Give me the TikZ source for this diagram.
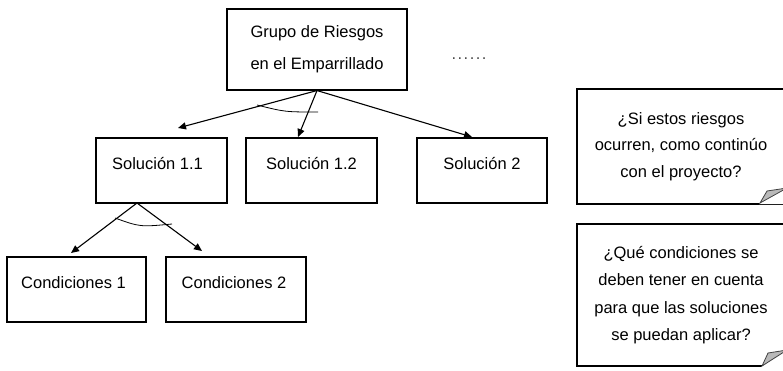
\documentclass[tikz,border=0pt]{standalone}
\usepackage{fontspec}
\setmainfont{Liberation Sans}
\usetikzlibrary{arrows.meta}

\begin{document}
\begin{tikzpicture}[
    x=1pt, y=-1pt,
    line width=1.1pt,
    every node/.style={font=\fontsize{16.5}{32}\selectfont},
    box/.style={draw, rectangle, inner sep=0pt, minimum height=65, text depth=14pt},
    note/.style={draw, rectangle, inner sep=0pt, align=center, minimum width=208},
    arr/.style={-{Triangle[length=8pt, width=7pt]}},
    swing/.style={line width=0.8pt},
    fold/.style={fill=gray!55, draw=black!75, line width=0.8pt}
]

    % Page frame
    \clip (0,0) rectangle (783,370);

    % --- TREE ---

    % Root
    \node[draw, rectangle, align=center, minimum width=180, minimum height=81, inner sep=0pt]
        (grupo) at (317,49.5) {Grupo de Riesgos\\en el Emparrillado};
    \node[anchor=base, text=black!70] (mas) at (469,59)
        {.\kern1.5pt.\kern1.5pt.\kern1.5pt.\kern1.5pt.\kern1.5pt.};

    % Solutions
    \node[box, minimum width=131] (sol11) at (161.5,170.5) {\hspace*{-8pt}Solución 1.1};
    \node[box, minimum width=131] (sol12) at (311.5,170.5) {Solución 1.2};
    \node[box, minimum width=130] (sol2)  at (482,170.5)   {Solución 2};

    % Conditions
    \node[box, minimum width=139] (cond1) at (76.5,289.5) {\hspace*{-6pt}Condiciones 1};
    \node[box, minimum width=140] (cond2) at (236,289.5)  {\hspace*{-4pt}Condiciones 2};

    % Arrow ends
    \coordinate (t11) at (178,128);
    \coordinate (t12) at (298,137);
    \coordinate (t2)  at (472,137);
    \coordinate (fork) at (137,203);  % Bottom of Solucion 1.1
    \coordinate (tc1) at (71,253);
    \coordinate (tc2) at (202,251);

    % Arrows
    \draw[arr] (grupo.south) -- (t11);
    \draw[arr] (grupo.south) -- (t12);
    \draw[arr] (grupo.south) -- (t2);
    \draw[arr] (fork) -- (tc1);
    \draw[arr] (fork) -- (tc2);

    % AND arcs
    \draw[swing] (257,105) .. controls (285,112) .. (318,112);
    \draw[swing] (115,218) .. controls (140,227) .. (172,224);

    % --- NOTES (right) ---
    \node[note, minimum height=115, font=\fontsize{16.5}{26.5}\selectfont]
        (pregunta1) at (681,146.5) {¿Si estos riesgos\\ocurren, como continúo\\con el proyecto?};
    \node[note, minimum height=142, font=\fontsize{16.5}{27.3}\selectfont]
        (pregunta2) at (681,295) {¿Qué condiciones se\\deben tener en cuenta\\para que las soluciones\\se puedan aplicar?};

    % Folded corners
    \fill[white] (759,204) -- (787,204) -- (787,187) -- cycle;
    \draw[fold] (760,203) -- (767,191) -- (787,188) -- cycle;
    \fill[white] (761,367) -- (787,367) -- (787,349) -- cycle;
    \draw[fold] (762,366) -- (768,353) -- (787,350) -- cycle;

\end{tikzpicture}
\end{document}
